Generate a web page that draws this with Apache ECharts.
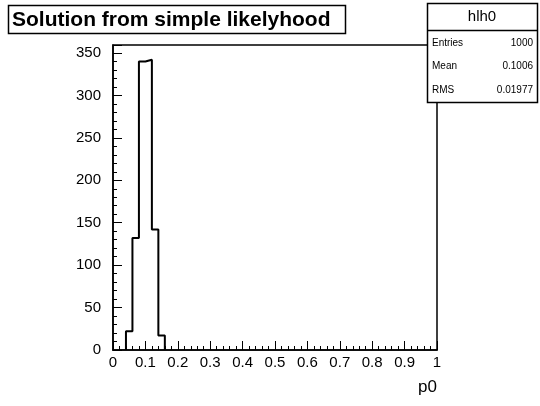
<!DOCTYPE html>
<html>
<head>
<meta charset="utf-8">
<script src="https://cdn.jsdelivr.net/npm/echarts@6/dist/echarts.min.js"></script>
<style>
html,body{margin:0;padding:0;background:#fff;}
#c{width:540px;height:406px;}
</style>
</head>
<body>
<div id="c"></div>
<script>
const titleText = "Solution from simple likelyhood";
const histName = "hlh0";
const statLabels = ["Entries", "Mean", "RMS"];
const statValues = ["1000", "0.1006", "0.01977"];
const binLow = [0.04, 0.06, 0.08, 0.10, 0.12, 0.14];
const binWidth = 0.02;
const counts = [22, 132, 340, 342, 142, 17];
const xTitle = "p0";

const pts = [[binLow[0], 0]];
for (let i = 0; i < binLow.length; i++) pts.push([binLow[i], counts[i]]);
pts.push([binLow[binLow.length - 1] + binWidth, 0]);

const chart = echarts.init(document.getElementById('c'), null, {renderer: 'canvas'});
const font = 'Liberation Sans, Arial, Helvetica, sans-serif';
chart.setOption({
  animation: false,
  backgroundColor: '#fff',
  grid: {left: 113, right: 103, top: 45, bottom: 56, show: true, borderColor: '#000', borderWidth: 1.5, backgroundColor: 'transparent'},
  xAxis: {
    type: 'value', min: 0, max: 1, interval: 0.1,
    name: xTitle, nameLocation: 'end', nameGap: 0,
    nameTextStyle: {fontFamily: font, fontSize: 17, color: '#000', align: 'right', verticalAlign: 'top', padding: [29, 0, 0, 0]},
    axisLine: {show: true, lineStyle: {color: '#000', width: 1.5}},
    axisTick: {show: true, inside: true, length: 9, lineStyle: {color: '#000', width: 1}},
    minorTick: {show: true, splitNumber: 5, length: 4, lineStyle: {color: '#000', width: 1}},
    splitLine: {show: false},
    axisLabel: {fontFamily: font, fontSize: 15, color: '#000', margin: 5,
      formatter: v => (Math.round(v * 10) / 10).toString()}
  },
  yAxis: {
    type: 'value', min: 0, max: 359.4, interval: 50,
    axisLine: {show: true, lineStyle: {color: '#000', width: 1.5}},
    axisTick: {show: true, inside: true, length: 9, lineStyle: {color: '#000', width: 1}},
    minorTick: {show: true, splitNumber: 5, length: 4, lineStyle: {color: '#000', width: 1}},
    splitLine: {show: false},
    axisLabel: {fontFamily: font, fontSize: 15, color: '#000', margin: 12, showMaxLabel: false,
      formatter: v => (v % 50 === 0 ? String(v) : '')}
  },
  series: [{
    type: 'line', step: 'end', data: pts, symbol: 'none',
    lineStyle: {color: '#000', width: 2}, z: 5
  }],
  graphic: [
    {type: 'rect', z: 100, shape: {x: 8.5, y: 5.5, width: 337, height: 28}, style: {fill: '#fff', stroke: '#000', lineWidth: 1.5}},
    {type: 'text', z: 101, x: 12, y: 20, style: {text: titleText, font: 'bold 21px ' + font, fill: '#000', verticalAlign: 'middle'}},
    {type: 'rect', z: 100, shape: {x: 427.5, y: 3.5, width: 110, height: 99}, style: {fill: '#fff', stroke: '#000', lineWidth: 1.5}},
    {type: 'line', z: 101, shape: {x1: 427.5, y1: 30.5, x2: 537.5, y2: 30.5}, style: {stroke: '#000', lineWidth: 1.5}},
    {type: 'text', z: 101, x: 482, y: 17, style: {text: histName, font: '15px ' + font, fill: '#000', align: 'center', verticalAlign: 'middle'}},
    {type: 'text', z: 101, x: 432, y: 43, style: {text: statLabels[0], font: '10px ' + font, fill: '#000', verticalAlign: 'middle'}},
    {type: 'text', z: 101, x: 533, y: 43, style: {text: statValues[0], font: '10px ' + font, fill: '#000', align: 'right', verticalAlign: 'middle'}},
    {type: 'text', z: 101, x: 432, y: 66, style: {text: statLabels[1], font: '10px ' + font, fill: '#000', verticalAlign: 'middle'}},
    {type: 'text', z: 101, x: 533, y: 66, style: {text: statValues[1], font: '10px ' + font, fill: '#000', align: 'right', verticalAlign: 'middle'}},
    {type: 'text', z: 101, x: 432, y: 90, style: {text: statLabels[2], font: '10px ' + font, fill: '#000', verticalAlign: 'middle'}},
    {type: 'text', z: 101, x: 533, y: 90, style: {text: statValues[2], font: '10px ' + font, fill: '#000', align: 'right', verticalAlign: 'middle'}}
  ]
});
</script>
</body>
</html>
